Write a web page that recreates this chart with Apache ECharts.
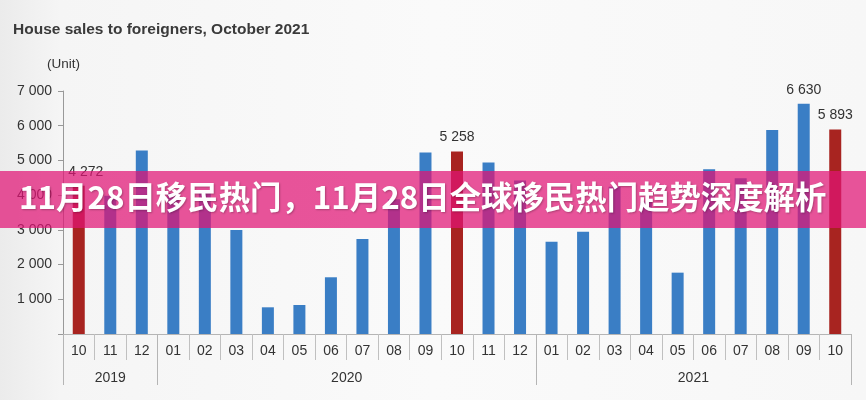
<!DOCTYPE html>
<html>
<head>
<meta charset="utf-8">
<script src="https://cdn.jsdelivr.net/npm/echarts@6/dist/echarts.min.js"></script>
<style>
html,body{margin:0;padding:0;background:#f8f8f8;}
#chart{width:866px;height:400px;}
</style>
</head>
<body>
<div id="chart"></div>
<script>
var titleText = 'House sales to foreigners, October 2021';
var unitText = '(Unit)';
var bannerText = '11月28日移民热门，11月28日全球移民热门趋势深度解析';
var months = ['10','11','12','01','02','03','04','05','06','07','08','09','10','11','12','01','02','03','04','05','06','07','08','09','10'];
var years = ['2019','2020','2021'];
var yearSpans = [3, 12, 10];
var sales = [4272, 3985, 5285, 4060, 4110, 2997, 769, 836, 1634, 2738, 3880, 5225, 5258, 4937, 4420, 2660, 2945, 4245, 3813, 1767, 4746, 4487, 5879, 6630, 5893];
var redIdx = [0, 12, 24];
var labelIdx = [0, 12, 23, 24];
var yTicks = [0, 1000, 2000, 3000, 4000, 5000, 6000, 7000];

function fmt(v){ return String(v).replace(/\B(?=(\d{3})+(?!\d))/g, ' '); }

var bounds = [0], centers = [], acc = 0;
yearSpans.forEach(function(s){ centers.push(acc + s / 2); acc += s; bounds.push(acc); });

var barData = sales.map(function(v, i){
  var item = {value: v};
  if (redIdx.indexOf(i) >= 0) item.itemStyle = {color: '#a82420'};
  if (labelIdx.indexOf(i) >= 0) item.label = {show: true, offset: i === 0 ? [7, 0] : [0, 0]};
  return item;
});

var chart = echarts.init(document.getElementById('chart'));
chart.setOption({
  backgroundColor: {
    type: 'linear', x: 0, y: 0, x2: 1, y2: 0,
    colorStops: [{offset: 0, color: '#ebebeb'}, {offset: 0.07, color: '#f5f5f5'}, {offset: 0.5, color: '#fafafa'}, {offset: 1, color: '#f7f7f7'}]
  },
  animation: false,
  title: [
    {text: titleText, left: 8, top: 17, textStyle: {fontFamily: 'Liberation Sans', fontSize: 15.5, fontWeight: 'bold', color: '#3a3a3a'}},
    {text: unitText, left: 42, top: 52, textStyle: {fontFamily: 'Liberation Sans', fontSize: 13.5, fontWeight: 'normal', color: '#333'}}
  ],
  grid: {left: 63, right: 15, top: 91, bottom: 66, containLabel: false},
  xAxis: [
    {
      type: 'category', data: months, boundaryGap: true,
      axisLine: {show: true, lineStyle: {color: '#b5b5b5', width: 1}},
      axisTick: {show: true, interval: 0, length: 26, lineStyle: {color: '#c0c0c0'}},
      axisLabel: {interval: 0, margin: 10, fontFamily: 'Liberation Sans', fontSize: 14, color: '#333'}
    },
    {
      type: 'value', min: 0, max: 25, position: 'bottom',
      axisLine: {show: false},
      splitLine: {show: false},
      axisTick: {show: true, customValues: bounds, length: 51, lineStyle: {color: '#b5b5b5'}},
      axisLabel: {show: true, customValues: centers, margin: 37, fontFamily: 'Liberation Sans', fontSize: 14, color: '#333',
        formatter: function(v){ var k = centers.indexOf(v); return k >= 0 ? years[k] : ''; }}
    }
  ],
  yAxis: {
    type: 'value', min: 0, max: 7000, interval: 1000,
    axisLine: {show: true, lineStyle: {color: '#999', width: 1}},
    axisTick: {show: true, length: 5, lineStyle: {color: '#999'}},
    splitLine: {show: false},
    axisLabel: {margin: 11, fontFamily: 'Liberation Sans', fontSize: 14, color: '#333',
      formatter: function(v){ return (v === 0 || yTicks.indexOf(v) < 0) ? '' : fmt(v); }}
  },
  series: [{
    type: 'bar', xAxisIndex: 0, data: barData, barWidth: 12,
    itemStyle: {color: '#3a7ec5'},
    label: {show: false, position: 'top', distance: 7, fontFamily: 'Liberation Sans', fontSize: 14, color: '#333',
      formatter: function(p){ return fmt(p.value); }}
  }],
  graphic: [
    {type: 'rect', left: 0, top: 171, z: 100, shape: {width: 866, height: 57}, style: {fill: 'rgba(225,20,116,0.72)'}},
    {type: 'text', left: 19, top: 181, z: 101,
      style: {text: bannerText, fill: '#ffffff', font: 'bold 31.4px "Noto Sans CJK SC"',
        textShadowColor: 'rgba(0,0,0,0.25)', textShadowBlur: 2, textShadowOffsetX: 1, textShadowOffsetY: 1}}
  ]
});
</script>
</body>
</html>
